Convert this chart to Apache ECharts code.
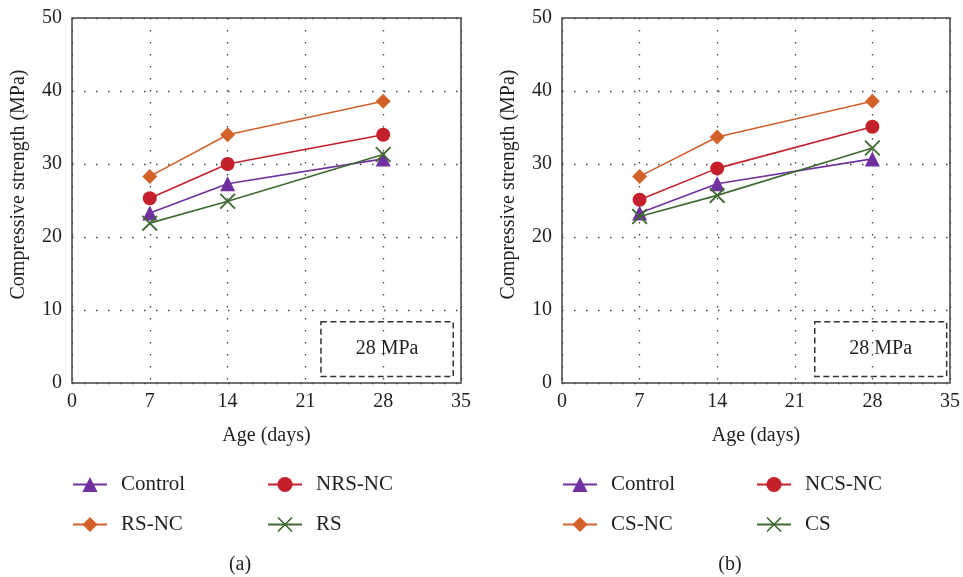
<!DOCTYPE html>
<html><head><meta charset="utf-8">
<script src="https://cdn.jsdelivr.net/npm/echarts@6/dist/echarts.min.js"></script>
<style>html,body{margin:0;padding:0;background:#fff}#c{width:963px;height:577px}</style>
</head><body><div id="c"></div>
<script>
const ages = [7, 14, 28];
const xTicks = [0, 7, 14, 21, 28, 35];
const yTicks = [0, 10, 20, 30, 40, 50];
// Panel (a)
const namesA = ['Control', 'NRS-NC', 'RS-NC', 'RS'];
const controlA = [23.3, 27.3, 30.7];
const nrsNC = [25.3, 30.0, 34.0];
const rsNC = [28.3, 34.0, 38.6];
const rs = [21.9, 24.9, 31.3];
// Panel (b)
const namesB = ['Control', 'NCS-NC', 'CS-NC', 'CS'];
const controlB = [23.3, 27.3, 30.7];
const ncsNC = [25.1, 29.4, 35.1];
const csNC = [28.3, 33.7, 38.6];
const cs = [22.8, 25.7, 32.2];
const boxLabel = '28 MPa';
const panelLabels = ['(a)', '(b)'];

const FONT = "'Liberation Serif', 'DejaVu Serif', serif";
const TXT = '#231f20';
const colors = ['#7030a0', '#c4202b', '#d2622a', '#3f6a32'];
const XPATH = 'path://M0,0.8 L0.8,0 L10,9.2 L9.2,10 Z M9.2,0 L10,0.8 L0.8,10 L0,9.2 Z';
const symbols = ['triangle', 'circle', 'diamond', XPATH];
const symSizes = [15, 14, 15, 16];

const chart = echarts.init(document.getElementById('c'), null, {renderer: 'canvas'});

function mkX(i) {
  return {
    gridIndex: i, type: 'value', min: 0, max: 35, interval: 7,
    name: 'Age (days)', nameLocation: 'middle', nameGap: 43,
    nameTextStyle: {fontFamily: FONT, fontSize: 20, color: TXT},
    axisLine: {show: false}, axisTick: {show: false},
    axisLabel: {fontFamily: FONT, fontSize: 20, color: TXT, margin: 9,
      formatter: v => xTicks.includes(v) ? String(v) : ''},
    splitLine: {show: true, lineStyle: {type: [1.5, 10.5], color: '#444', width: 1.3}}
  };
}
function mkY(i) {
  return {
    gridIndex: i, type: 'value', min: 0, max: 50, interval: 10,
    name: 'Compressive strength (MPa)', nameLocation: 'middle', nameGap: 43,
    nameTextStyle: {fontFamily: FONT, fontSize: 20, color: TXT, padding: [0, 0, 0, 32]},
    axisLine: {show: false}, axisTick: {show: false},
    axisLabel: {fontFamily: FONT, fontSize: 20, color: TXT, margin: 10,
      formatter: v => yTicks.includes(v) ? String(v) : ''},
    splitLine: {show: true, lineStyle: {type: [1.5, 10.5], color: '#444', width: 1.3}}
  };
}
function mkSeries(names, arrays, gi, box) {
  return arrays.map((arr, k) => {
    const s = {
      name: names[k], type: 'line', xAxisIndex: gi, yAxisIndex: gi,
      data: ages.map((a, j) => [a, arr[j]]),
      symbol: symbols[k], symbolSize: symSizes[k],
      lineStyle: {color: colors[k], width: 1.6},
      itemStyle: {color: colors[k], opacity: 1},
      z: 3 + (k === 3 ? 1 : 0),
      animation: false
    };
    if (k === 0) {
      s.markArea = {
        silent: true,
        itemStyle: {color: 'rgba(0,0,0,0)', borderColor: '#333', borderWidth: 1.5, borderType: [6, 3.5]},
        label: {show: true, position: 'inside', formatter: boxLabel, fontFamily: FONT, fontSize: 20, color: TXT},
        data: [[{xAxis: box[0], yAxis: box[1]}, {xAxis: box[2], yAxis: box[3]}]]
      };
    }
    return s;
  });
}
function mkLegend(name, left, top) {
  return {
    data: [name], left: left, top: top, padding: 0,
    itemWidth: 34, itemHeight: 19, selectedMode: false,
    textStyle: {fontFamily: FONT, fontSize: 21, color: TXT, padding: [0, 0, 0, 9]}
  };
}

const option = {
  animation: false,
  backgroundColor: '#fff',
  grid: [
    {left: 72, top: 18, width: 389, height: 365, show: true, borderColor: '#444', borderWidth: 1.5, backgroundColor: 'transparent'},
    {left: 562, top: 18, width: 388, height: 365, show: true, borderColor: '#444', borderWidth: 1.5, backgroundColor: 'transparent'}
  ],
  xAxis: [mkX(0), mkX(1)],
  yAxis: [mkY(0), mkY(1)],
  title: [
    {text: panelLabels[0], left: 240, top: 565, textAlign: 'center', textVerticalAlign: 'middle', padding: 0,
      textStyle: {fontFamily: FONT, fontSize: 20, fontWeight: 'normal', color: TXT}},
    {text: panelLabels[1], left: 730, top: 565, textAlign: 'center', textVerticalAlign: 'middle', padding: 0,
      textStyle: {fontFamily: FONT, fontSize: 20, fontWeight: 'normal', color: TXT}}
  ],
  legend: [
    mkLegend(namesA[0], 72, 474), mkLegend(namesA[1], 267, 474),
    mkLegend(namesA[2], 72, 514), mkLegend(namesA[3], 267, 514),
    mkLegend(namesB[0], 562, 474), mkLegend(namesB[1], 756, 474),
    mkLegend(namesB[2], 562, 514), mkLegend(namesB[3], 756, 514)
  ],
  series: [
    ...mkSeries(namesA, [controlA, nrsNC, rsNC, rs], 0, [22.4, 8.4, 34.3, 0.9]),
    ...mkSeries(namesB, [controlB, ncsNC, csNC, cs], 1, [22.8, 8.4, 34.7, 0.9])
  ]
};
chart.setOption(option);
</script>
</body></html>
